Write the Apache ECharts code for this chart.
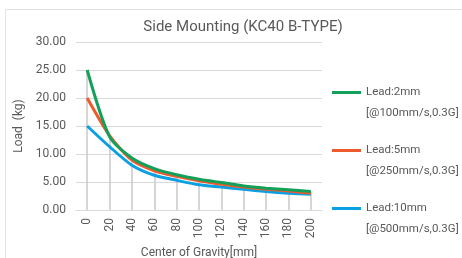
<!DOCTYPE html>
<html><head><meta charset="utf-8">
<script src="https://cdn.jsdelivr.net/npm/echarts@6/dist/echarts.min.js"></script>
<style>
html,body{margin:0;padding:0;background:#fff;}
#frame{position:absolute;left:5px;top:9px;width:470px;height:260px;border:1px solid #e3e3e3;}
#c{position:absolute;left:0;top:0;width:462px;height:258px;}
</style></head>
<body><div id="frame"></div><div id="c"></div>
<script>
const categories = ['0','20','40','60','80','100','120','140','160','180','200'];
const yTicks = [0, 5, 10, 15, 20, 25, 30];
const lead2 = [25, 13.1, 9.3, 7.4, 6.3, 5.5, 4.9, 4.3, 3.9, 3.6, 3.3];
const lead5 = [20, 13.3, 8.9, 7.0, 6.0, 5.2, 4.6, 4.1, 3.7, 3.4, 3.0];
const lead10 = [15, 11.3, 8.0, 6.2, 5.3, 4.5, 4.1, 3.7, 3.3, 3.0, 2.8];
const names = ['Lead:2mm', 'Lead:5mm', 'Lead:10mm'];
const notes = ['[@100mm/s,0.3G]', '[@250mm/s,0.3G]', '[@500mm/s,0.3G]'];

const FONT = 'Roboto';
const grey = '#595959';
const maxVals = categories.map((c, i) => Math.max(lead2[i], lead5[i], lead10[i]));
const dropLines = categories.map((c, i) => [{xAxis: i, yAxis: maxVals[i]}, {xAxis: i, yAxis: 0}]);

const chart = echarts.init(document.getElementById('c'), null, {renderer: 'canvas'});
chart.setOption({
  animation: false,
  textStyle: {fontFamily: FONT},
  title: {
    text: 'Side Mounting (KC40 B-TYPE)', left: 238, top: 15, textAlign: 'center',
    textStyle: {fontFamily: FONT, fontSize: 15, fontWeight: 'normal', color: grey}
  },
  grid: {left: 76, right: 140, top: 42, bottom: 48, containLabel: false, outerBoundsMode: 'none'},
  legend: {
    orient: 'vertical', left: 327, top: 56, itemGap: -5,
    icon: 'rect', itemWidth: 29, itemHeight: 3,
    data: names,
    formatter: function (n) {
      const k = names.indexOf(n);
      return '{z| }\n{a|' + n + '}\n{b|' + notes[k] + '}';
    },
    textStyle: {
      fontFamily: FONT, fontSize: 11.5, color: grey, lineHeight: 21,
      rich: {
        z: {fontFamily: FONT, fontSize: 11.5, lineHeight: 21, height: 21},
        a: {fontFamily: FONT, fontSize: 11.5, lineHeight: 21, height: 21, color: grey},
        b: {fontFamily: FONT, fontSize: 11.5, lineHeight: 21, height: 21, color: grey}
      }
    }
  },
  xAxis: {
    type: 'category', data: categories, boundaryGap: true,
    name: 'Center of Gravity[mm]', nameLocation: 'middle', nameGap: 37,
    nameTextStyle: {fontFamily: FONT, fontSize: 12, color: grey},
    axisLine: {lineStyle: {color: '#d9d9d9'}},
    axisTick: {show: false},
    axisLabel: {rotate: 90, margin: 8, fontFamily: FONT, fontSize: 12, color: grey}
  },
  yAxis: {
    type: 'value', min: 0, max: 30, interval: 5,
    name: 'Load  (kg)', nameLocation: 'middle', nameGap: 45,
    nameTextStyle: {fontFamily: FONT, fontSize: 12, color: grey},
    axisLine: {show: false}, axisTick: {show: false},
    splitLine: {lineStyle: {color: '#d9d9d9'}},
    axisLabel: {margin: 10, fontFamily: FONT, fontSize: 12, color: grey,
      formatter: v => yTicks.includes(v) ? v.toFixed(2) : ''}
  },
  series: [
    {name: names[2], type: 'line', data: lead10, smooth: 0.25, symbol: 'none',
     lineStyle: {width: 3, color: '#0aa0e2'}, itemStyle: {color: '#0aa0e2'},
     markLine: {silent: true, symbol: 'none', label: {show: false}, z: 1,
       lineStyle: {color: '#c8c8c8', width: 1.5, type: 'solid'}, data: dropLines}},
    {name: names[1], type: 'line', data: lead5, smooth: 0.25, symbol: 'none',
     lineStyle: {width: 3, color: '#ee5a2e'}, itemStyle: {color: '#ee5a2e'}},
    {name: names[0], type: 'line', data: lead2, smooth: 0.25, symbol: 'none',
     lineStyle: {width: 3, color: '#12a05a'}, itemStyle: {color: '#12a05a'}}
  ]
});
</script></body></html>
